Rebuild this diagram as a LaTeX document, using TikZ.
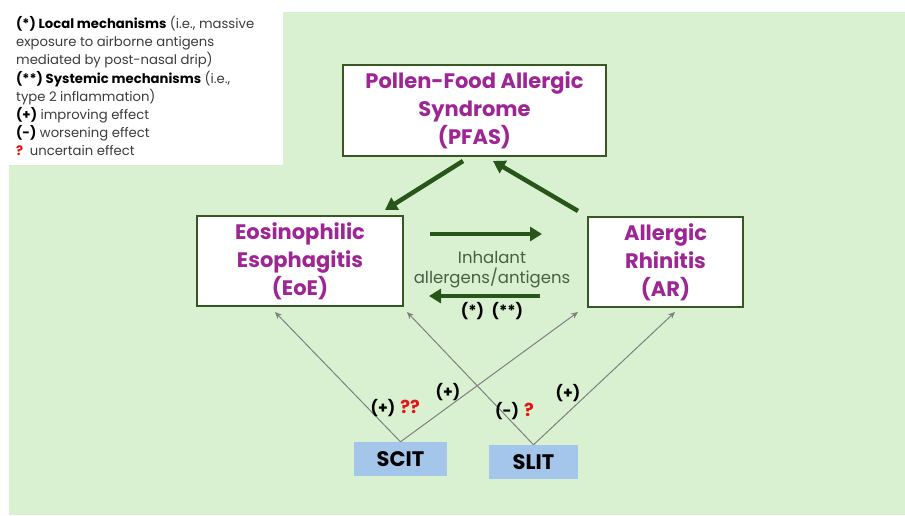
\documentclass[tikz,border=0pt]{standalone}
\usepackage{fontspec}
\setmainfont{Poppins}
\usetikzlibrary{arrows.meta}
\definecolor{bggreen}{RGB}{217,240,209}
\definecolor{boxgreen}{RGB}{56,87,35}
\definecolor{arrgreen}{RGB}{40,85,25}
\definecolor{titlepurple}{RGB}{158,38,148}
\definecolor{itblue}{RGB}{164,198,234}
\definecolor{midtext}{RGB}{75,95,65}
\definecolor{qred}{RGB}{230,20,20}
\definecolor{legtext}{RGB}{60,60,60}
\begin{document}
\begin{tikzpicture}[x=1pt,y=-1pt,
  condbox/.style={draw=boxgreen, line width=1.6pt, fill=white, inner sep=0pt, align=center,
    text=titlepurple, font=\fontsize{21}{28}\selectfont\bfseries},
  itbox/.style={fill=itblue, inner sep=0pt, font=\fontsize{21}{24}\selectfont\bfseries},
  bigarrow/.style={draw=arrgreen, line width=4.5pt, -{Triangle[length=12pt,width=14pt]}},
  thinarrow/.style={draw=gray, line width=1pt, -{Stealth[length=7pt,width=6pt]}},
  effect/.style={font=\fontsize{15.5}{18}\selectfont\bfseries, inner sep=0pt},
  qmark/.style={font=\fontsize{18}{20}\selectfont\bfseries, inner sep=0pt, text=qred},
  midlabel/.style={font=\fontsize{16.5}{19}\selectfont, text=midtext, inner sep=0pt},
]
\useasboundingbox (0,0) rectangle (905,515);
\fill[white] (0,0) rectangle (905,515);
\fill[bggreen] (9,12) rectangle (905,515);
\fill[white] (0,0) rectangle (283,165);

% legend
\node[anchor=north west, inner sep=0pt, align=left, text=legtext,
  font=\fontsize{13.2}{18.2}\selectfont] (legend) at (16,16) {%
  {\color{black}\bfseries (*) Local mechanisms} (i.e., massive\\
  exposure to airborne antigens\\
  mediated by post-nasal drip)\\
  {\color{black}\bfseries (**) Systemic mechanisms} (i.e.,\\
  type 2 inflammation)\\
  {\color{black}\bfseries (+)} improving effect\\
  {\color{black}\bfseries (-)} worsening effect\\
  {\color{qred}\bfseries ?}\enspace uncertain effect};

% condition boxes
\node[condbox, minimum width=263pt, minimum height=91pt] (pfas) at (474.5,110.5)
  {Pollen-Food Allergic\\Syndrome\\(PFAS)};
\node[condbox, minimum width=206pt, minimum height=90pt] (eoe) at (300,261)
  {Eosinophilic\\Esophagitis\\(EoE)};
\node[condbox, minimum width=155pt, minimum height=90pt] (ar) at (665.5,262)
  {Allergic\\Rhinitis\\(AR)};

% immunotherapy boxes
\node[itbox, minimum width=93pt, minimum height=34pt] (scit) at (400.5,459) {SCIT};
\node[itbox, minimum width=89pt, minimum height=34pt] (slit) at (533.5,462) {SLIT};

% arrow end points
\coordinate (pfasA) at (463,161);
\coordinate (eoeA) at (385,210);
\coordinate (arA) at (578,211);
\coordinate (pfasB) at (493,161);
\coordinate (eoeR1) at (430,234);
\coordinate (arL1) at (542,234);
\coordinate (arL2) at (540,296);
\coordinate (eoeR2) at (429,296);
\coordinate (eoeS1) at (275,312);
\coordinate (eoeS2) at (407,312);
\coordinate (arS1) at (578,312);
\coordinate (arS2) at (675,312);

\draw[bigarrow] (pfasA) -- (eoeA);
\draw[bigarrow] (arA) -- (pfasB);
\draw[bigarrow] (eoeR1) -- (arL1);
\draw[bigarrow] (arL2) -- (eoeR2);

\draw[thinarrow] (scit.north) -- (eoeS1);
\draw[thinarrow] (scit.north) -- (arS1);
\draw[thinarrow] (slit.north) -- (eoeS2);
\draw[thinarrow] (slit.north) -- (arS2);

% middle labels
\node[midlabel] (inh) at (492,257) {Inhalant};
\node[midlabel] (alg) at (492,278) {allergens/antigens};
\node[effect] (mech) at (492,311) {(*)\enspace(**)};

% effect labels
\node[effect] (e1) at (383,408) {(+)};
\node[qmark] (q1) at (410,407) {??};
\node[effect] (e2) at (448,392) {(+)};
\node[effect] (e3) at (507,411) {(-)};
\node[qmark] (q2) at (529,410) {?};
\node[effect] (e4) at (568,393) {(+)};
\end{tikzpicture}
\end{document}
